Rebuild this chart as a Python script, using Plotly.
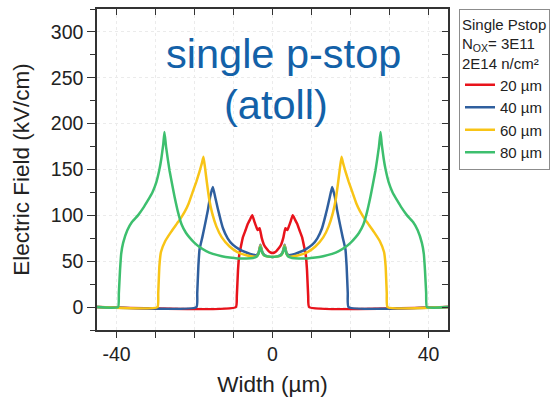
import plotly.graph_objects as go

# ---- data ----
series_names = ["20 µm", "40 µm", "60 µm", "80 µm"]
series_colors = ["#e8131b", "#2f5f9e", "#f8c416", "#3dbf6e"]

x_20 = [-45, -9.4, -9.15, -8.85, -8.55, -8.1, -7.6, -6.9, -6.3, -5.7, -5.2, -4.7, -4.2, -3.8, -3.3, -2.8, -2.2, -1.6, -1.0, -0.5, 0,
        0.5, 1.0, 1.6, 2.2, 2.8, 3.3, 3.8, 4.2, 4.7, 5.2, 5.7, 6.3, 6.9, 7.6, 8.1, 8.55, 8.85, 9.15, 9.4, 45]
y_20 = [0, 0, 12, 40, 56, 66, 76, 84, 91, 96, 100, 94, 88, 84, 86, 76, 68, 64, 61, 59.5, 59,
        59.5, 61, 64, 68, 76, 86, 84, 88, 94, 100, 96, 91, 84, 76, 66, 56, 40, 12, 0, 0]

x_40 = [-45, -19.5, -19.3, -19.0, -18.7, -18.0, -17.4, -16.6, -16.0, -15.3, -14.7, -14.0, -13.3, -12.7, -11.5, -10.2, -8.5, -6.7, -5.0, -4.2, -3.6, -3.1, -2.6, -2.0, -1.0, 0,
        1.0, 2.0, 2.6, 3.1, 3.6, 4.2, 5.0, 6.7, 8.5, 10.2, 11.5, 12.7, 13.3, 14.0, 14.7, 15.3, 16.0, 16.6, 17.4, 18.0, 18.7, 19.0, 19.3, 19.5, 45]
y_40 = [0, 0, 15, 45, 63, 76, 88, 105, 120, 131, 120, 107, 95, 86, 75, 68, 63, 59.5, 57, 56.5, 59, 68, 60, 56.5, 55, 54.5,
        55, 56.5, 60, 68, 59, 56.5, 57, 59.5, 63, 68, 75, 86, 95, 107, 120, 131, 120, 105, 88, 76, 63, 45, 15, 0, 0]

x_60 = [-45, -29.5, -29.3, -29.0, -28.6, -27.5, -26.0, -24.5, -23.5, -22.5, -21.5, -20.5, -19.5, -18.7, -18.1, -17.7, -17.3, -16.8, -16.2, -15.5, -14.4, -13.0, -11.0, -9.0, -6.7, -4.2, -3.6, -3.1, -2.6, -2.0, -1.0, 0,
        1.0, 2.0, 2.6, 3.1, 3.6, 4.2, 6.7, 9.0, 11.0, 13.0, 14.4, 15.5, 16.2, 16.8, 17.3, 17.7, 18.1, 18.7, 19.5, 20.5, 21.5, 22.5, 23.5, 24.5, 26.0, 27.5, 28.6, 29.0, 29.3, 29.5, 45]
y_60 = [0, 0, 15, 45, 60, 72, 82, 91, 97, 104, 113, 125, 137, 148, 157, 164, 152, 135, 117, 103, 88, 76, 66, 60, 56.5, 55, 58, 67, 59, 56, 55, 54.5,
        55, 56, 59, 67, 58, 55, 56.5, 60, 66, 76, 88, 103, 117, 135, 152, 164, 157, 148, 137, 125, 113, 104, 97, 91, 82, 72, 60, 45, 15, 0, 0]

x_80 = [-45, -39.6, -39.4, -39.1, -38.8, -38.3, -37.2, -36.0, -34.5, -33.0, -32.0, -30.8, -29.8, -29.0, -28.5, -28.0, -27.7, -27.3, -26.8, -26.4, -25.7, -25.1, -24.2, -23.3, -22.2, -21.3, -20.0, -18.7, -17.0, -15.3, -13.0, -11.0, -9.0, -6.7, -5.0, -4.2, -3.6, -3.1, -2.6, -2.0, -1.0, 0,
        1.0, 2.0, 2.6, 3.1, 3.6, 4.2, 5.0, 6.7, 9.0, 11.0, 13.0, 15.3, 17.0, 18.7, 20.0, 21.3, 22.2, 23.3, 24.2, 25.1, 25.7, 26.4, 26.8, 27.3, 27.7, 28.0, 28.5, 29.0, 29.8, 30.8, 32.0, 33.0, 34.5, 36.0, 37.2, 38.3, 38.8, 39.1, 39.4, 39.6, 45]
y_80 = [0, 0, 15, 40, 58, 70, 84, 93, 100, 109, 116, 125, 136, 150, 162, 178, 191, 175, 160, 149, 133, 120, 103, 90, 81, 76, 70, 65.5, 61, 58, 55.5, 54, 53, 53, 53.5, 54.5, 58, 66, 59, 56, 55, 54.5,
        55, 56, 59, 66, 58, 54.5, 53.5, 53, 53, 54, 55.5, 58, 61, 65.5, 70, 76, 81, 90, 103, 120, 133, 149, 160, 175, 191, 178, 162, 150, 136, 125, 116, 109, 100, 93, 84, 70, 58, 40, 15, 0, 0]

series_x = [x_20, x_40, x_60, x_80]
series_y = [y_20, y_40, y_60, y_80]

x_range = [-45, 45]
y_range = [-25, 325]
x_tickvals = [-40, 0, 40]
x_ticktext = ["-40", "0", "40"]

legend_title = "Single Pstop<br>N<sub>OX</sub>= 3E11<br>2E14 n/cm²"
x_title = "Width (µm)"
y_title = "Electric Field (kV/cm)"
label_line1 = "single p-stop"
label_line2 = "(atoll)"

FONT = "Liberation Sans, Arial, sans-serif"
AX = "#333333"
GRID = "#ebebeb"

fig = go.Figure()
for name, color, xs, ys in zip(series_names, series_colors, series_x, series_y):
    fig.add_trace(go.Scatter(x=xs, y=ys, mode="lines", name=name,
                             line=dict(color=color, width=2.5, shape="spline", smoothing=0.4)))

# helper trace for mirrored inner-tick axes
fig.add_trace(go.Scatter(x=[0], y=[0], xaxis="x2", yaxis="y2", mode="markers",
                         marker=dict(opacity=0), showlegend=False, hoverinfo="skip"))

fig.update_layout(
    width=559, height=404,
    margin=dict(l=97, r=111, t=9, b=74),
    paper_bgcolor="white", plot_bgcolor="white",
    font=dict(family=FONT, color="#222222"),
    showlegend=True,
    legend=dict(
        title=dict(text=legend_title, font=dict(size=15, family=FONT, color="#222")),
        font=dict(size=15, family=FONT, color="#222"),
        xref="container", yref="container",
        x=459 / 559, y=1 - 9 / 404, xanchor="left", yanchor="top",
        bordercolor="#8c8c8c", borderwidth=1, bgcolor="white",
        tracegroupgap=0,
    ),
    xaxis=dict(
        range=x_range, showline=True, linecolor=AX, linewidth=1.5, mirror=False,
        ticks="outside", ticklen=6, tickwidth=1.3, tickcolor=AX,
        tickmode="array", tickvals=x_tickvals, ticktext=x_ticktext,
        tickfont=dict(size=19.5, family=FONT, color="#222"),
        showgrid=True, gridcolor=GRID, griddash="dot", gridwidth=1,
        minor=dict(dtick=10, tick0=0, ticks="outside", ticklen=6, tickwidth=1.3, tickcolor=AX,
                   showgrid=True, gridcolor=GRID, griddash="dot"),
        zeroline=False,
        title=dict(text=x_title, font=dict(size=22.5, family=FONT, color="#222"), standoff=12),
    ),
    yaxis=dict(
        range=y_range, showline=True, linecolor=AX, linewidth=1.5, mirror=False,
        ticks="outside", ticklen=8, tickwidth=1.3, tickcolor=AX,
        dtick=50, tick0=0, tickfont=dict(size=19.5, family=FONT, color="#222"),
        showgrid=True, gridcolor=GRID, griddash="dot", gridwidth=1,
        minor=dict(dtick=25, ticks="outside", ticklen=5, tickwidth=1.3, tickcolor=AX,
                   showgrid=False),
        zeroline=False,
        title=dict(text=y_title, font=dict(size=22.5, family=FONT, color="#222"), standoff=15),
    ),
    xaxis2=dict(
        overlaying="x", matches="x", side="top", anchor="y", range=x_range,
        showline=True, linecolor=AX, linewidth=1.5,
        ticks="inside", ticklen=6, tickwidth=1.3, tickcolor=AX, dtick=10, tick0=0,
        showticklabels=False, showgrid=False, zeroline=False,
    ),
    yaxis2=dict(
        overlaying="y", matches="y", side="right", anchor="x", range=y_range,
        showline=True, linecolor=AX, linewidth=1.5,
        ticks="inside", ticklen=6, tickwidth=1.3, tickcolor=AX, dtick=25, tick0=0,
        showticklabels=False, showgrid=False, zeroline=False,
    ),
)

fig.add_annotation(text=label_line1, x=2.8, y=276, xref="x", yref="y", showarrow=False,
                   font=dict(size=41.5, family=FONT, color="#1361a8"), xanchor="center", yanchor="middle")
fig.add_annotation(text=label_line2, x=0.8, y=221, xref="x", yref="y", showarrow=False,
                   font=dict(size=41.5, family=FONT, color="#1361a8"), xanchor="center", yanchor="middle")

fig.write_html("out.html")
